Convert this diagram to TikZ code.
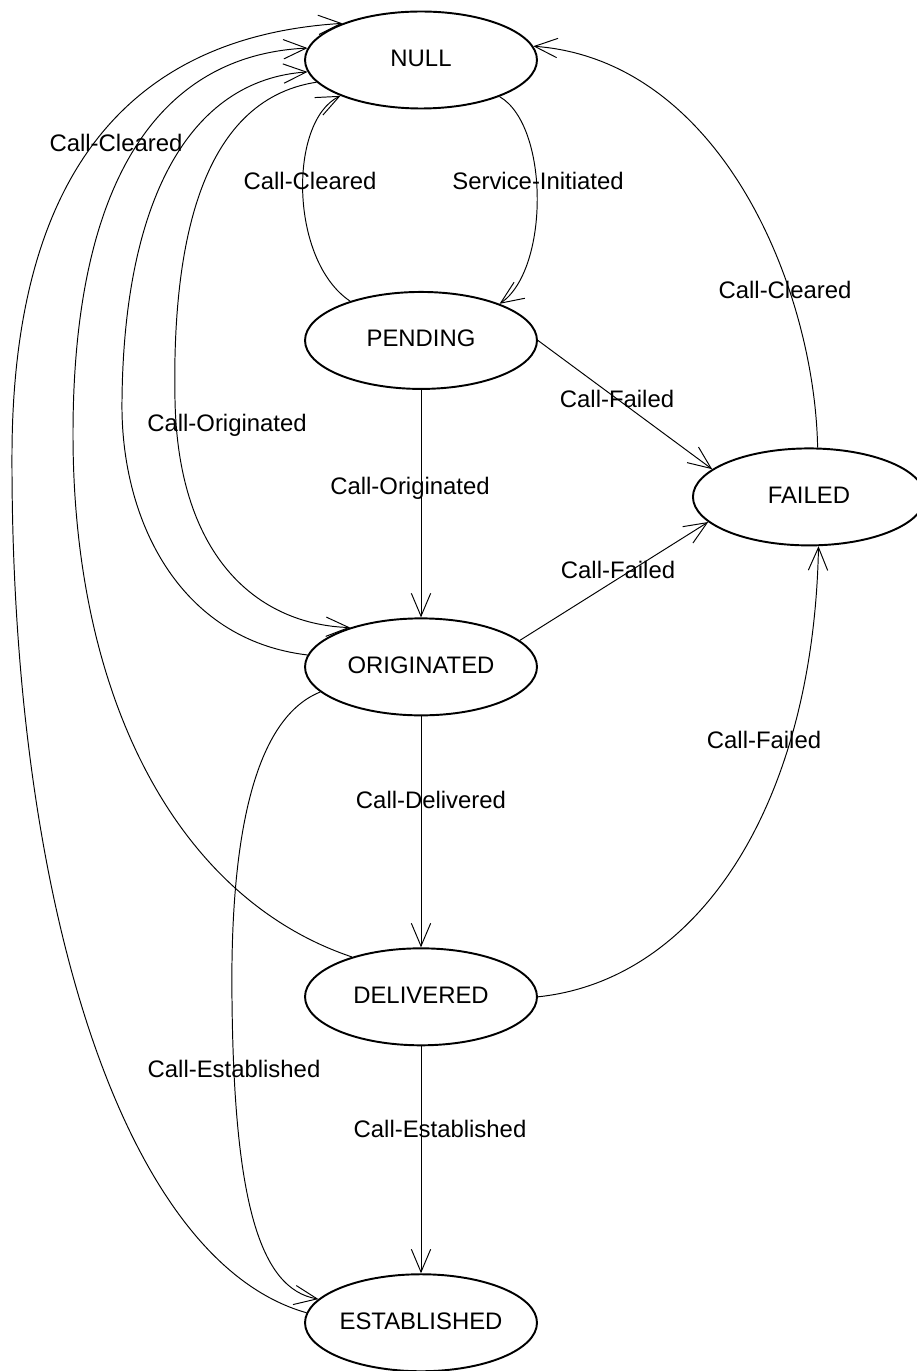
\documentclass[tikz,border=0pt]{standalone}
\usepackage{fontspec}
\setmainfont{Liberation Sans}
\usetikzlibrary{arrows.meta, positioning, shapes.geometric}

\begin{document}
\begin{tikzpicture}[
  x=0.02cm, y=-0.02cm,
  node distance=6.5cm, on grid,
  font=\fontsize{13.6}{16}\selectfont,
  state/.style={ellipse, draw, line width=1.1pt, minimum width=4.64cm,
                minimum height=1.94cm, inner sep=0pt,
                text height=0.72em, text depth=0pt},
  lbl/.style={inner sep=0pt, text height=0.72em, text depth=0pt},
  trans/.style={line width=0.55pt, -{Straight Barb[length=13pt,width=11pt]}},
]
\useasboundingbox (0,0) rectangle (916,1371);

\node[state] (null) at (421,60) {NULL};
\node[state, below=5.61cm of null] (pend) {PENDING};
\node[state, below right=3.13cm and 7.76cm of pend] (failed) {FAILED};
\node[state, below=6.53cm of pend] (orig) {ORIGINATED};
\node[state, below=6.6cm of orig] (deliv) {DELIVERED};
\node[state, below=6.52cm of deliv] (estab) {ESTABLISHED};

% transitions
\draw[trans] (null.335) .. controls +(50,29) and +(50,-34) .. (pend.25);
\draw[trans] (pend.151) .. controls +(-61,-41) and +(-52,25) .. (null.204);
\draw[trans] (failed.80) .. controls +(-3,-159) and +(188,14) .. (null.7);
\draw[trans] (pend.east) -- (failed.164);
\draw[trans] (pend) -- (orig);
\draw[trans] (orig.15) -- (failed.194);
\draw[trans] (orig) -- (deliv);
\draw[trans] (deliv) -- (estab);
\draw[trans] (deliv.east) .. controls +(163,-17) and +(-5,255) .. (failed.281);
\draw[trans] (null.192) .. controls +(-118,18) and +(-3,-150) .. (175,400)
  .. controls +(3,160) and +(-90,-3) .. (orig.151);
\draw[trans] (orig.174) .. controls +(-128,-15) and +(-2,120) .. (122,400)
  .. controls +(2,-200) and +(-118,8) .. (null.186);
\draw[trans] (deliv.150) .. controls +(-173,-58) and +(-1,270) .. (73,430)
  .. controls +(1,-250) and +(-148,7) .. (null.174);
\draw[trans] (estab.175) .. controls +(-184,-52) and +(-2,450) .. (12,450)
  .. controls +(2,-280) and +(-210,13) .. (null.155);
\draw[trans] (orig.194) .. controls +(-70,28) and +(-2,-150) .. (232,1000)
  .. controls +(2,200) and +(-59,-10) .. (estab.167);

% labels
\node[lbl] (lclr1) at (116,145) {Call-Cleared};
\node[lbl] (lclr2) at (310,183) {Call-Cleared};
\node[lbl] (lsrv) at (538,183) {Service-Initiated};
\node[lbl] (lclr3) at (785,292) {Call-Cleared};
\node[lbl] (lfail1) at (617,401) {Call-Failed};
\node[lbl] (lorig1) at (227,425) {Call-Originated};
\node[lbl] (lorig2) at (410,488) {Call-Originated};
\node[lbl] (lfail2) at (618,572) {Call-Failed};
\node[lbl] (lfail3) at (764,742) {Call-Failed};
\node[lbl] (ldel) at (431,802) {Call-Delivered};
\node[lbl] (lest1) at (234,1071) {Call-Established};
\node[lbl] (lest2) at (440,1131) {Call-Established};

\end{tikzpicture}
\end{document}
